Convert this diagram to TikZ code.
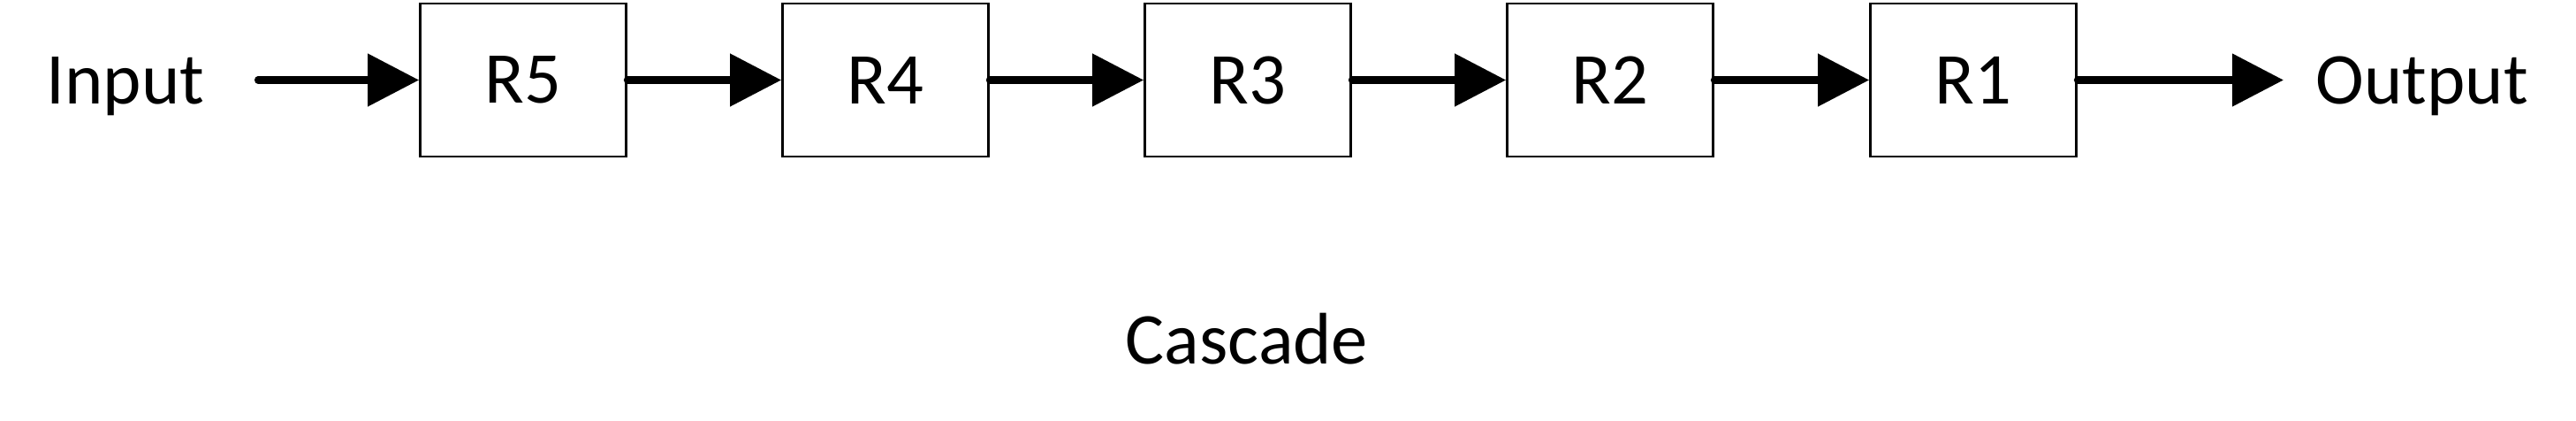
\documentclass[tikz,border=0pt]{standalone}
\usepackage{fontspec}
\setmainfont{Carlito}
\usetikzlibrary{arrows.meta}
\tikzset{
    block/.style={shape=rectangle,draw=black,line width=0.8pt,minimum width=2.33cm,minimum height=1.73cm,inner sep=0pt},
    word/.style={anchor=base,inner sep=0pt},
    link/.style={line width=2.3pt,line cap=round,-{Triangle[length=0.58cm,width=0.58cm]}}
}
\begin{document}
\begin{tikzpicture}[font=\fontsize{23.5}{28}\selectfont]
            \useasboundingbox (0,0) rectangle (29.15,-4.75);
            \node[block] (r5) at (5.92,-0.905) {R5};
            \node[block] (r4) at (10.02,-0.905) {R4};
            \node[block] (r3) at (14.12,-0.905) {R3};
            \node[block] (r2) at (18.22,-0.905) {R2};
            \node[block] (r1) at (22.33,-0.905) {R1};
            \node[word] (in) at (1.42,-1.17) {Input};
            \node[word] (out) at (27.41,-1.17) {Output};
            \node[word] (cas) at (14.11,-4.11) {Cascade};
            \coordinate (src) at (2.92,-0.905);
            \coordinate (dst) at (25.84,-0.905);

            %Archi

            \draw[link] (src) -- (r5.west);
            \draw[link] (r5.east) -- (r4.west);
            \draw[link] (r4.east) -- (r3.west);
            \draw[link] (r3.east) -- (r2.west);
            \draw[link] (r2.east) -- (r1.west);
            \draw[link] (r1.east) -- (dst);
        \end{tikzpicture}
\end{document}
